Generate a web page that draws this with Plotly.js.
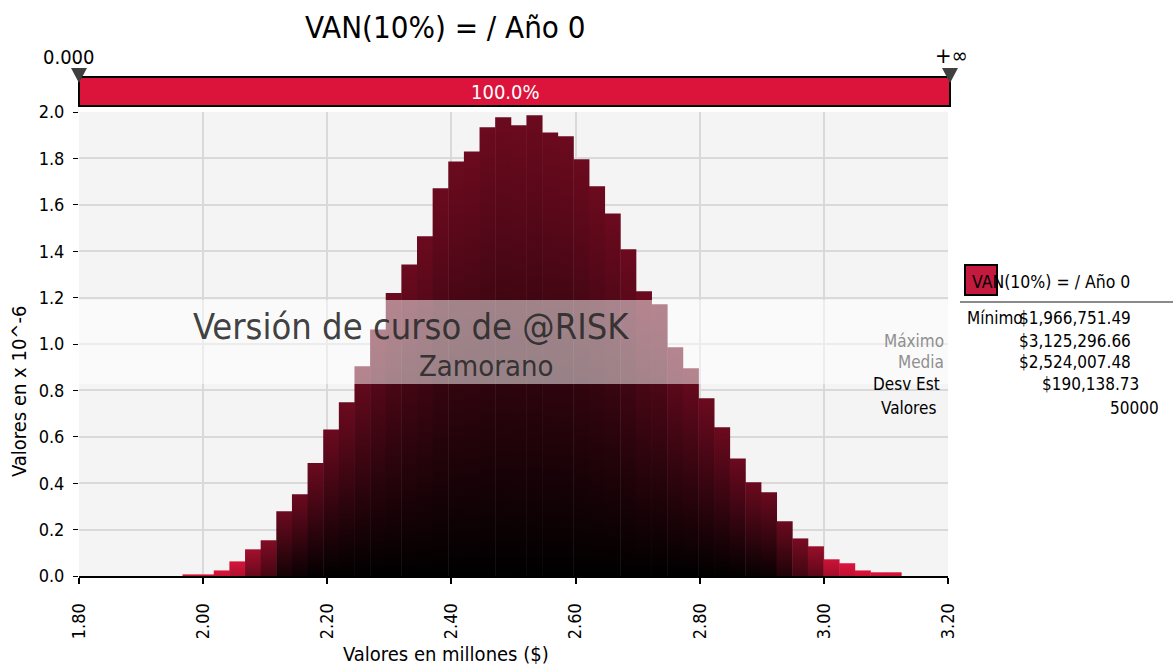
<!DOCTYPE html>
<html>
<head>
<meta charset="utf-8">
<script src="https://cdn.plot.ly/plotly-3.0.1.min.js"></script>
<style>
html, body { margin: 0; padding: 0; background: #ffffff; }
#chart { width: 1173px; height: 665px; }
</style>
</head>
<body>
<div id="chart"></div>
<script>
// ---------------- DATA ----------------
const chartTitle = "VAN(10%) = / Año 0";
const xAxisTitle = "Valores en millones ($)";
const yAxisTitle = "Valores en x 10^-6";
const legendLabel = "VAN(10%) = / Año 0";

// histogram densities (x 10^-6), 46 equal bins from minimum to maximum
const densities = [
  0.007, 0.007, 0.024, 0.063, 0.115, 0.154, 0.279, 0.352, 0.487, 0.632,
  0.749, 0.904, 1.063, 1.220, 1.343, 1.464, 1.671, 1.787, 1.830, 1.934,
  1.977, 1.943, 1.986, 1.912, 1.895, 1.796, 1.680, 1.563, 1.408, 1.227,
  1.171, 0.986, 0.895, 0.766, 0.641, 0.507, 0.404, 0.361, 0.236, 0.162,
  0.128, 0.072, 0.055, 0.024, 0.016, 0.016
];
const minValue = 1.96675149;   // millions
const maxValue = 3.12529666;   // millions

const statLabels = ["Mínimo", "Máximo", "Media", "Desv Est", "Valores"];
const statValues = ["$1,966,751.49", "$3,125,296.66", "$2,524,007.48", "$190,138.73", "50000"];

const xTickVals = [1.8, 2.0, 2.2, 2.4, 2.6, 2.8, 3.0, 3.2];
const yTickVals = [0, 0.2, 0.4, 0.6, 0.8, 1.0, 1.2, 1.4, 1.6, 1.8, 2.0];
const delimiterLabels = ["0.000", "+∞"];
const bandPercent = "100.0%";
const watermarkLines = ["Versión de curso de @RISK", "Zamorano"];

// ---------------- BUILD ----------------
const FONT = "DejaVu Sans Condensed, DejaVu Sans, sans-serif";
const L = 79, R = 948, T = 112, B = 576, W = 1173, H = 665;
const px = v => (v - L) / (R - L);
const py = v => (B - v) / (B - T);

function lerp(a, b, t) { return a + (b - a) * t; }
function rgb(c) { return "rgb(" + c.map(v => Math.round(v)).join(",") + ")"; }
function barScale(h) {
  const crimson = [220, 20, 60], dark = [108, 10, 31], base = [200, 18, 54];
  let t1 = Math.max(0, Math.min(1, (h - 0.055) / 0.12));
  const top = crimson.map((c, i) => lerp(c, dark[i], t1));
  const f = Math.exp(-Math.max(0, h - 0.05) / 0.1);
  const bottom = base.map(c => c * f);
  return [[0, rgb(bottom)], [1, rgb(top)]];
}

const n = densities.length;
const binW = (maxValue - minValue) / n;
const seam = binW * 0.03;   // tiny overlap to hide anti-aliasing seams
const traces = densities.map((h, k) => {
  const x0 = minValue + k * binW, x1 = x0 + binW + (k < n - 1 ? seam : 0);
  return {
    type: "scatter", mode: "lines",
    x: [x0, x0, x1, x1, x0],
    y: [0, h, h, 0, 0],
    fill: "toself",
    line: { width: 0, color: "rgba(0,0,0,0)" },
    fillgradient: { type: "vertical", colorscale: barScale(h) },
    hoverinfo: "skip", showlegend: false
  };
});

function ann(text, x, y, opts) {
  return Object.assign({
    text: text, xref: "paper", yref: "paper", x: px(x), y: py(y),
    showarrow: false, xanchor: "center", yanchor: "middle",
    font: { family: FONT, size: 17, color: "#000" }
  }, opts || {});
}
const f = (size, color) => ({ family: FONT, size: size, color: color || "#000" });

const annotations = [
  ann(chartTitle, 445, 27, { font: f(31) }),
  ann(delimiterLabels[0], 69, 57, { font: f(20) }),
  ann(delimiterLabels[1], 951, 55, { font: f(22) }),
  ann(bandPercent, 505, 92, { font: f(20, "#fff") }),
  ann(watermarkLines[0], 411, 326, { font: f(36, "rgba(40,40,40,0.9)") }),
  ann(watermarkLines[1], 486, 366, { font: f(29, "rgba(40,40,40,0.9)") }),
  ann(yAxisTitle, 19, 392, { textangle: -90, font: f(20) }),
  ann(xAxisTitle, 446, 654, { font: f(20) }),
  ann(legendLabel, 970, 282, { xanchor: "left", font: f(17.5) }),
  ann(statLabels[0], 965, 318, { xanchor: "left" }),
  ann(statLabels[1], 946, 341, { xanchor: "right", font: f(17, "#8f8f8f") }),
  ann(statLabels[2], 946, 362, { xanchor: "right", font: f(17, "#8f8f8f") }),
  ann(statLabels[3], 942, 384, { xanchor: "right" }),
  ann(statLabels[4], 938, 408, { xanchor: "right" }),
  ann(statValues[0], 1017, 318, { xanchor: "left" }),
  ann(statValues[1], 1017, 341, { xanchor: "left" }),
  ann(statValues[2], 1017, 362, { xanchor: "left" }),
  ann(statValues[3], 1040, 384, { xanchor: "left" }),
  ann(statValues[4], 1161, 408, { xanchor: "right" })
];

const shapes = [
  // delimiter bar
  { type: "rect", xref: "paper", yref: "paper", x0: 0, x1: px(950), y0: py(106), y1: py(77),
    fillcolor: "#DC143C", line: { color: "#000", width: 2 } },
  // delimiter triangles
  { type: "path", xref: "paper", yref: "paper",
    path: `M ${px(71)} ${py(68)} L ${px(87)} ${py(68)} L ${px(79)} ${py(83)} Z`,
    fillcolor: "#3f3f3f", line: { width: 0 } },
  { type: "path", xref: "paper", yref: "paper",
    path: `M ${px(942)} ${py(68)} L ${px(958)} ${py(68)} L ${px(950)} ${py(83)} Z`,
    fillcolor: "#3f3f3f", line: { width: 0 } },
  // watermark band
  { type: "rect", xref: "paper", yref: "paper", x0: 0, x1: px(950), y0: py(384), y1: py(300),
    fillcolor: "rgba(255,255,255,0.5)", line: { width: 0 }, layer: "above" },
  // legend swatch
  { type: "rect", xref: "paper", yref: "paper", x0: px(965), x1: px(997), y0: py(295), y1: py(265),
    fillcolor: "#C41A40", line: { color: "#000", width: 2 } },
  // legend separator
  { type: "line", xref: "paper", yref: "paper", x0: px(960), x1: px(1173), y0: py(302), y1: py(302),
    line: { color: "#8a8a8a", width: 2 } }
];

const layout = {
  width: W, height: H,
  margin: { l: L, r: W - R, t: T, b: H - B, pad: 0 },
  paper_bgcolor: "#ffffff",
  plot_bgcolor: "#f4f4f4",
  showlegend: false,
  font: { family: FONT, size: 17, color: "#000" },
  xaxis: {
    range: [1.8, 3.2], tickvals: xTickVals, tickformat: ".2f",
    tickangle: -90, ticks: "outside", ticklen: 6, tickwidth: 2, tickcolor: "#000",
    ticklabelstandoff: 12,
    showline: true, linecolor: "#000", linewidth: 2,
    showgrid: true, gridcolor: "#d9d9d9", gridwidth: 2, zeroline: false,
    tickfont: f(18), fixedrange: true
  },
  yaxis: {
    range: [0, 2.0], tickvals: yTickVals, tickformat: ".1f",
    ticks: "outside", ticklen: 5, tickwidth: 1, tickcolor: "#000",
    ticklabelstandoff: 5,
    showline: false, showgrid: true, gridcolor: "#d9d9d9", gridwidth: 2, zeroline: false,
    tickfont: f(18), fixedrange: true
  },
  annotations: annotations,
  shapes: shapes
};

Plotly.newPlot("chart", traces, layout, { displayModeBar: false, staticPlot: true });
</script>
</body>
</html>
